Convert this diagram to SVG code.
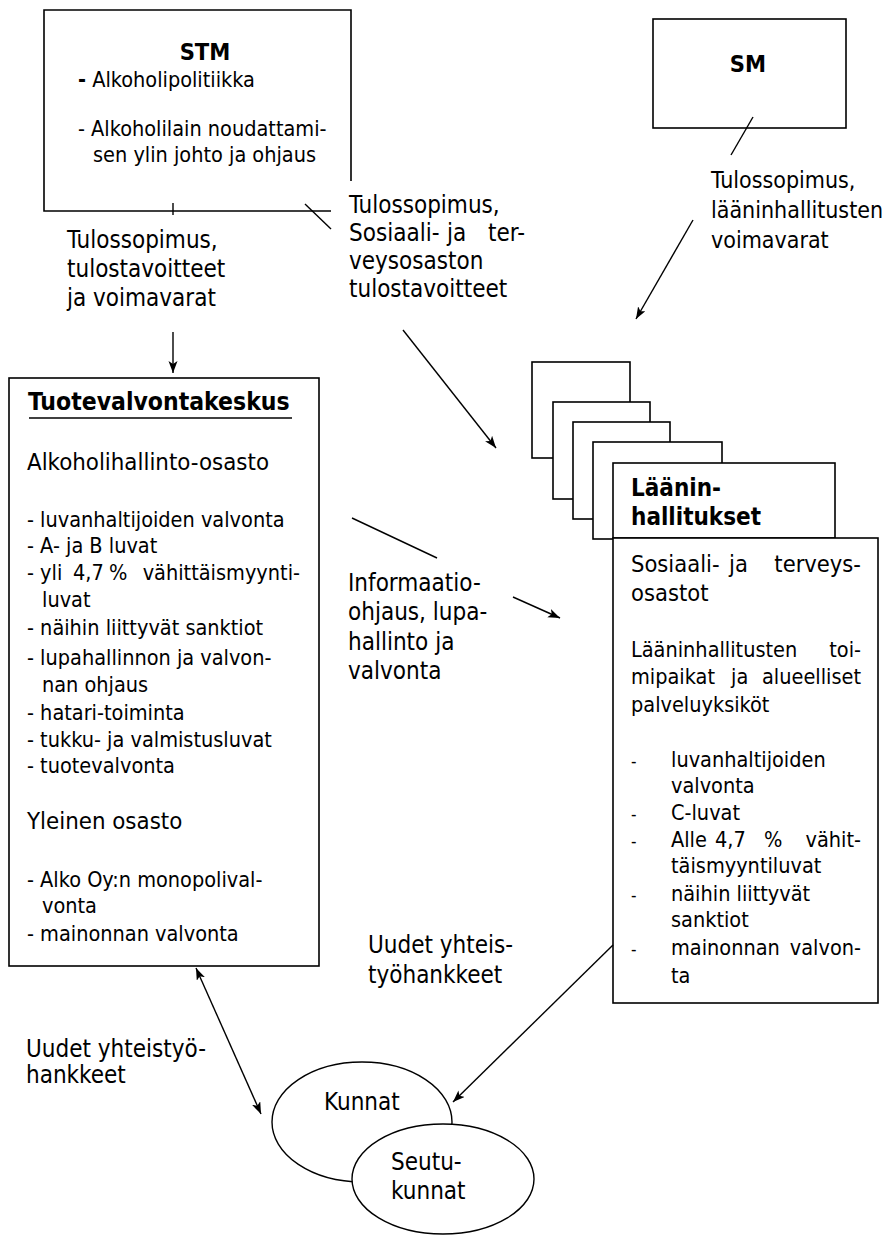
<svg xmlns="http://www.w3.org/2000/svg" width="888" height="1235" viewBox="0 0 888 1235">
<style>
text{font-family:"DejaVu Sans Condensed","DejaVu Sans",sans-serif;font-stretch:condensed;fill:#000}
.t{font-size:21.5px}
.l{font-size:24px}
.h{font-size:23.8px}
.b{font-weight:bold}
.bb{font-size:23.5px;font-weight:bold}
.box{fill:#fff;stroke:#000;stroke-width:1.6}
.ln{fill:none;stroke:#000;stroke-width:1.4}
.dash{font-size:17px}
</style>
<defs>
<marker id="ah" markerUnits="userSpaceOnUse" markerWidth="14" markerHeight="10" refX="12" refY="4.5" orient="auto-start-reverse">
<path d="M0,0 L12,4.5 L0,9 L3,4.5 z" fill="#000"/>
</marker>
</defs>
<rect width="888" height="1235" fill="#fff"/>

<g id="stm">
<path class="ln" style="stroke-width:1.6" d="M351,181 V10 H44 V211 H331"/>
<text class="bb" x="205" y="60" text-anchor="middle">STM</text>
<text class="t" x="78" y="87"><tspan font-weight="bold">-</tspan> Alkoholipolitiikka</text>
<text class="t" x="78" y="136">- Alkoholilain noudattami-</text>
<text class="t" x="93" y="162">sen ylin johto ja ohjaus</text>
</g>

<g id="sm">
<rect class="box" x="653" y="19" width="193" height="109"/>
<text class="bb" x="748" y="72" text-anchor="middle">SM</text>
</g>

<g id="label-stm-tuote">
<text class="l" x="67" y="248">Tulossopimus,</text>
<text class="l" x="67" y="277">tulostavoitteet</text>
<text class="l" x="67" y="306">ja voimavarat</text>
</g>

<g id="label-stm-laani">
<text class="l" x="349" y="213">Tulossopimus,</text>
<text class="l" x="349" y="241">Sosiaali-</text>
<text class="l" x="447" y="241">ja</text>
<text class="l" x="525" y="241" text-anchor="end">ter-</text>
<text class="l" x="349" y="269">veysosaston</text>
<text class="l" x="349" y="297">tulostavoitteet</text>
</g>

<g id="label-sm">
<text class="l" x="711" y="188" style="font-size:23px">Tulossopimus,</text>
<text class="l" x="711" y="218" style="font-size:23px">lääninhallitusten</text>
<text class="l" x="711" y="248" style="font-size:23px">voimavarat</text>
</g>

<g id="tuotevalvontakeskus">
<rect class="box" x="9" y="378" width="310" height="588"/>
<text class="bb" x="28" y="410" style="font-size:24.5px">Tuotevalvontakeskus</text>
<line class="ln" x1="29" y1="418" x2="292" y2="418" style="stroke-width:1.6"/>
<text class="h" x="27" y="470">Alkoholihallinto-osasto</text>
<text class="t" x="27" y="527">- luvanhaltijoiden valvonta</text>
<text class="t" x="27" y="553">- A- ja B luvat</text>
<text class="t" x="27" y="580">- yli</text>
<text class="t" x="73" y="580">4,7</text>
<text class="t" x="109" y="580">%</text>
<text class="t" x="300" y="580" text-anchor="end">vähittäismyynti-</text>
<text class="t" x="42" y="607">luvat</text>
<text class="t" x="27" y="635">- näihin liittyvät sanktiot</text>
<text class="t" x="27" y="665">- lupahallinnon ja valvon-</text>
<text class="t" x="42" y="692">nan ohjaus</text>
<text class="t" x="27" y="720">- hatari-toiminta</text>
<text class="t" x="27" y="747">- tukku- ja valmistusluvat</text>
<text class="t" x="27" y="773">- tuotevalvonta</text>
<text class="h" x="27" y="829">Yleinen osasto</text>
<text class="t" x="27" y="887">- Alko Oy:n monopolival-</text>
<text class="t" x="42" y="913">vonta</text>
<text class="t" x="27" y="941">- mainonnan valvonta</text>
</g>

<g id="laaninhallitukset">
<rect class="box" x="532" y="362" width="98" height="96"/>
<rect class="box" x="553" y="402" width="97" height="97"/>
<rect class="box" x="573" y="422" width="97" height="97"/>
<rect class="box" x="593" y="442" width="129" height="97"/>
<rect class="box" x="613" y="463" width="222" height="75"/>
<rect class="box" x="613" y="538" width="265" height="465"/>
<text class="bb" x="631" y="496" style="font-size:24px">Läänin-</text>
<text class="bb" x="631" y="525" style="font-size:24px">hallitukset</text>
<text class="h" x="631" y="572" style="font-size:23.5px">Sosiaali-</text>
<text class="h" x="729" y="572" style="font-size:23.5px">ja</text>
<text class="h" x="861" y="572" text-anchor="end" style="font-size:23.5px">terveys-</text>
<text class="h" x="631" y="601" style="font-size:23.5px">osastot</text>
<text class="t" x="631" y="657">Lääninhallitusten</text>
<text class="t" x="861" y="657" text-anchor="end">toi-</text>
<text class="t" x="631" y="684">mipaikat</text>
<text class="t" x="731" y="684">ja</text>
<text class="t" x="861" y="684" text-anchor="end">alueelliset</text>
<text class="t" x="631" y="712">palveluyksiköt</text>
<text class="dash" x="631" y="767">-</text>
<text class="t" x="671" y="767">luvanhaltijoiden</text>
<text class="t" x="671" y="793">valvonta</text>
<text class="dash" x="631" y="820">-</text>
<text class="t" x="671" y="820">C-luvat</text>
<text class="dash" x="631" y="847">-</text>
<text class="t" x="671" y="847">Alle</text>
<text class="t" x="715" y="847">4,7</text>
<text class="t" x="764" y="847">%</text>
<text class="t" x="861" y="847" text-anchor="end">vähit-</text>
<text class="t" x="671" y="873">täismyyntiluvat</text>
<text class="dash" x="631" y="901">-</text>
<text class="t" x="671" y="901">näihin liittyvät</text>
<text class="t" x="671" y="927">sanktiot</text>
<text class="dash" x="631" y="955">-</text>
<text class="t" x="671" y="955">mainonnan</text>
<text class="t" x="861" y="955" text-anchor="end">valvon-</text>
<text class="t" x="671" y="983">ta</text>
</g>

<g id="label-info">
<text class="l" x="348" y="591">Informaatio-</text>
<text class="l" x="348" y="620">ohjaus, lupa-</text>
<text class="l" x="348" y="650">hallinto ja</text>
<text class="l" x="348" y="679">valvonta</text>
</g>

<g id="label-uudet1">
<text class="l" x="368" y="953">Uudet yhteis-</text>
<text class="l" x="368" y="983">työhankkeet</text>
</g>

<g id="label-uudet2">
<text class="l" x="26" y="1057">Uudet yhteistyö-</text>
<text class="l" x="26" y="1083">hankkeet</text>
</g>

<g id="kunnat">
<ellipse class="box" cx="362" cy="1122" rx="90" ry="60" style="stroke-width:1.4"/>
<text class="l" x="324" y="1110">Kunnat</text>
</g>

<g id="seutukunnat">
<ellipse class="box" cx="443" cy="1179" rx="91" ry="55" style="stroke-width:1.4"/>
<text class="l" x="391" y="1170">Seutu-</text>
<text class="l" x="391" y="1199">kunnat</text>
</g>

<g id="connectors">
<line class="ln" x1="173" y1="203" x2="173" y2="215"/>
<line class="ln" x1="305" y1="204" x2="331" y2="229"/>
<line class="ln" x1="173" y1="332" x2="173" y2="373" marker-end="url(#ah)"/>
<line class="ln" x1="753" y1="117" x2="731" y2="155"/>
<line class="ln" x1="693" y1="220" x2="636" y2="319" marker-end="url(#ah)"/>
<line class="ln" x1="403" y1="330" x2="496" y2="448" marker-end="url(#ah)"/>
<line class="ln" x1="352" y1="518" x2="437" y2="558"/>
<line class="ln" x1="513" y1="597" x2="560" y2="618" marker-end="url(#ah)"/>
<line class="ln" x1="613" y1="945" x2="453" y2="1102" marker-end="url(#ah)"/>
<line class="ln" x1="196" y1="968" x2="261" y2="1114" marker-start="url(#ah)" marker-end="url(#ah)"/>
</g>
</svg>
